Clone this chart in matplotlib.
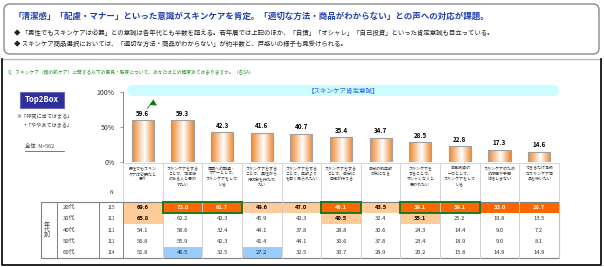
import numpy as np
import matplotlib.pyplot as plt
from matplotlib.patches import Rectangle, FancyBboxPatch, Polygon
from matplotlib.colors import LinearSegmentedColormap

plt.rcParams['font.family'] = ['Noto Sans CJK JP', 'DejaVu Sans']

title = "「清潔感」「配慮・マナー」といった意識がスキンケアを肯定。「適切な方法・商品がわからない」との声への対応が課題。"
bullets = [
    "◆ 「男性でもスキンケアは必要」との意識は各年代とも半数を超える。若年層では上記のほか、「自信」「オシャレ」「自己投資」といった肯定意識も目立っている。",
    "◆ スキンケア商品選択においては、「適切な方法・商品がわからない」が約半数と、戸惑いの様子も見受けられる。",
]
question = "Q．スキンケア（顔の肌ケア）に関する以下の意見・態度について、あなたはどの程度あてはまりますか。（各SA）"
banner = "【スキンケア肯定意識】"

items = [
    "男性でもスキン\nケアは必要だと\n思う",
    "スキンケアをする\nことで、清潔感\nのある人と思わ\nれたい",
    "周囲への配慮・\nマナーとして、\nスキンケアをして\nいる",
    "スキンケアをする\nことで、異性から\n好印象を持たれ\nたい",
    "スキンケアをする\nことで、年齢より\nも若く見られたい",
    "スキンケアをする\nことで、自分に\n自信が持てる",
    "自分の肌年齢\nが気になる",
    "スキンケアを\nすることで、\nオシャレな人と\n思われたい",
    "自己投資の\n一つとして、\nスキンケアをして\nいる",
    "スキンケアのため\nの時間や手間\nは惜しまない",
    "できるだけ高級\nなスキンケア商\n品を使いたい",
]
total = [59.6, 59.3, 42.3, 41.6, 40.7, 35.4, 34.7, 28.5, 22.8, 17.3, 14.6]

ages = ["20代", "30代", "40代", "50代", "60代"]
age_n = [115, 111, 111, 111, 114]
by_age = [
    [69.6, 73.0, 61.7, 49.6, 47.0, 46.1, 43.5, 39.1, 39.1, 33.0, 28.7],
    [65.8, 62.2, 42.3, 45.9, 42.3, 40.5, 32.4, 35.1, 25.2, 19.8, 13.5],
    [54.1, 58.6, 32.4, 44.1, 37.8, 28.8, 30.6, 24.3, 14.4, 9.0, 7.2],
    [56.8, 55.9, 42.3, 41.4, 44.1, 30.6, 37.8, 23.4, 18.9, 9.0, 8.1],
    [51.8, 46.5, 32.5, 27.2, 32.5, 30.7, 28.9, 20.2, 15.8, 14.9, 14.9],
]
# column spans boxed in green on the 20代 row
boxed = [(1, 2), (5, 5), (7, 8)]

# layout in pixels
W, H = 604, 267
pl, pr = 123, 559
col_w = (pr - pl) / len(total)
y0, y100 = 162, 92
head_top, head_bot = 163, 202
row_h = 11.2
tbl_l = 41
tbl_b = head_bot + row_h * len(ages)

fig = plt.figure(figsize=(W / 100, H / 100), dpi=100)
bg = fig.add_axes([0, 0, 1, 1])
bg.set_xlim(0, W)
bg.set_ylim(H, 0)
bg.axis('off')

# header box
bg.add_patch(FancyBboxPatch((4, 4), 595, 50, boxstyle="round,pad=0,rounding_size=6",
                            fc='white', ec='#8a8a8a', lw=1))
bg.text(14, 16, title, fontsize=6.1, fontweight='bold', color='#1f3fae', va='center')
for k, b in enumerate(bullets):
    bg.text(14, 33 + k * 11, b, fontsize=4.6, color='#222222', va='center')

# lower frame
bg.plot([2, 601], [59, 59], color='#bbbbbb', lw=1)
bg.plot([2, 2, 601, 601], [59, 265, 265, 59], color='black', lw=1.2)

bg.text(8, 73, question, fontsize=3.4, color='#339933', va='center')

bg.add_patch(FancyBboxPatch((127, 85), 432, 11, boxstyle="round,pad=0,rounding_size=5.5",
                            fc='#ccfcff', ec='none'))
bg.text((127 + 559) / 2, 90.5, banner, fontsize=4.7, color='#3366ee', ha='center', va='center')

bg.add_patch(Rectangle((20, 92), 44, 16, fc='#2e2e9c', ec='#6a6ab8', lw=0.8))
bg.text(42, 100, "Top2Box", fontsize=5.6, fontweight='bold', color='white', ha='center', va='center')
bg.text(16, 117, "※「非常に当てはまる」", fontsize=3.7, color='#444444', va='center')
bg.text(24, 126, "+「ややあてはまる」", fontsize=3.7, color='#444444', va='center')
bg.text(25, 147, "全体  N=562", fontsize=3.9, color='#444444', va='center')
bg.plot([25, 64], [151, 151], color='#444444', lw=0.5)

# bar chart
ax = fig.add_axes([pl / W, 1 - y0 / H, (pr - pl) / W, (y0 - y100) / H])
ax.patch.set_alpha(0)
x = np.arange(len(total))
bars = ax.bar(x, total, width=0.56, facecolor='none', edgecolor='#a0a0a0', lw=0.8, zorder=3)
cmap = LinearSegmentedColormap.from_list('cyl', [(0, '#f0852a'), (0.55, '#ffffff'), (1, '#f0852a')])
grad = np.linspace(0, 1, 64).reshape(1, -1)
for b in bars:
    bx, bw, bh = b.get_x(), b.get_width(), b.get_height()
    im = ax.imshow(grad, extent=(bx, bx + bw, 0, bh), cmap=cmap, aspect='auto', zorder=2)
    im.set_clip_path(b)
for i, v in enumerate(total):
    ax.text(i, v + 5, f"{v:.1f}", fontsize=4.5, fontweight='bold', ha='center', va='bottom')
v = total[0]
ax.plot([0.12, 0.27], [v + 17, v + 29], color='#0a7a0a', lw=0.6, clip_on=False)
ax.add_patch(Polygon([(0.17, v + 22), (0.27, v + 29), (0.36, v + 21)], closed=True,
                     fc='#0a7a0a', ec='none', clip_on=False))
ax.set_xlim(-0.5, len(total) - 0.5)
ax.set_ylim(0, 100)
ax.set_xticks([])
ax.set_yticks([0, 50, 100])
ax.set_yticklabels(["0%", "50%", "100%"], fontsize=5, color='#333333')
ax.tick_params(axis='y', length=2, width=0.6, color='#888888', pad=4)
for s in ['top', 'right', 'bottom']:
    ax.spines[s].set_visible(False)
ax.spines['left'].set_color('#888888')
ax.spines['left'].set_linewidth(0.7)

# table
def cx(j):
    return pl + col_w * (j + 0.5)

for j, lab in enumerate(items):
    bg.text(cx(j), head_top + 3.5, lab, fontsize=2.9, color='#333333', ha='center', va='top',
            linespacing=1.35)
for k in range(len(total) + 1):
    bg.plot([pl + k * col_w] * 2, [head_top, tbl_b], color='#d0d0d0', lw=0.6)
bg.plot([pl, pr], [head_top, head_top], color='#d0d0d0', lw=0.6)
bg.text(111, 193, "N", fontsize=3.5, color='#333333', ha='center', va='center')

colors = {'dark': ('#ff6600', 'white', 'bold'), 'light': ('#ffcc99', 'black', 'bold'),
          'blue': ('#99ccff', '#222222', 'normal'), 'none': ('white', '#333333', 'normal')}
for i, row in enumerate(by_age):
    top = head_bot + i * row_h
    bg.text(63, top + row_h / 2, ages[i], fontsize=4.3, color='#333333', va='center')
    bg.text(111, top + row_h / 2, str(age_n[i]), fontsize=3.3, color='#333333', ha='center', va='center')
    for j, val in enumerate(row):
        d = round(val - total[j], 1)
        kind = 'dark' if d > 10 else 'light' if d >= 5 else 'blue' if d <= -10 else 'none'
        fc, tc, fw = colors[kind]
        if kind != 'none':
            bg.add_patch(Rectangle((pl + j * col_w, top), col_w, row_h, fc=fc, ec='none'))
        bg.text(cx(j), top + row_h / 2, f"{val:.1f}", fontsize=4.2, color=tc, fontweight=fw,
                ha='center', va='center')
for k in range(1, len(total)):
    bg.plot([pl + k * col_w] * 2, [head_bot, tbl_b], color='#d0d0d0', lw=0.6)
bg.text(47, head_bot + row_h * len(ages) / 2, "年\n代\n別", fontsize=4.3, color='#333333',
        ha='center', va='center', linespacing=1.0)
for xl in [57, 99, pl]:
    bg.plot([xl, xl], [head_bot, tbl_b], color='#808080', lw=0.7)
bg.add_patch(Rectangle((tbl_l, head_bot), pr - tbl_l, tbl_b - head_bot, fc='none', ec='#808080', lw=0.8))
for a, b in boxed:
    bg.add_patch(Rectangle((pl + a * col_w, head_bot), (b - a + 1) * col_w, row_h,
                           fc='none', ec='#1a7a1a', lw=1.4, zorder=5))

fig.savefig("out.png", dpi=100)
